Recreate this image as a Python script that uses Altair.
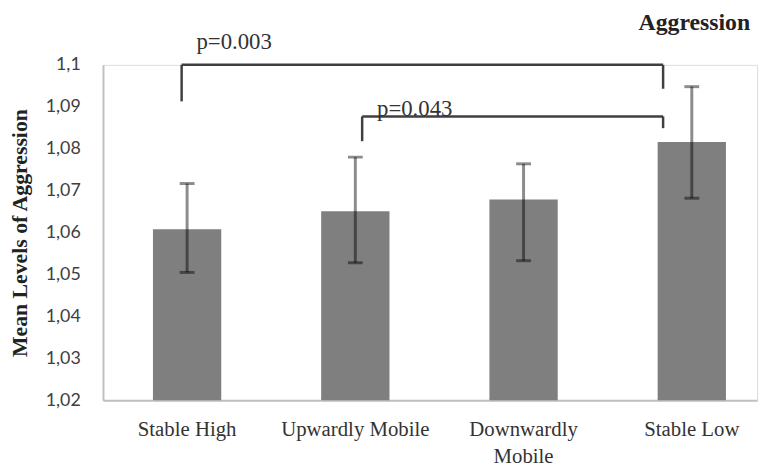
import altair as alt
import pandas as pd

categories = ["Stable High", "Upwardly Mobile", "Downwardly Mobile", "Stable Low"]
means = [1.0608, 1.0651, 1.0679, 1.0816]
lower = [1.0505, 1.0528, 1.0533, 1.0682]
upper = [1.0717, 1.0780, 1.0764, 1.0948]

# significance brackets: (from group, to group, level, left leg end, right leg end, label, label level)
brackets = [
    ("Stable High", "Stable Low", 1.1000, 1.0913, 1.0943, "p=0.003", 1.1038),
    ("Upwardly Mobile", "Stable Low", 1.0877, 1.0818, 1.0849, "p=0.043", 1.0877),
]

df = pd.DataFrame({"group": categories, "mean": means, "lower": lower, "upper": upper})

yscale = alt.Scale(domain=[1.02, 1.1], zero=False, nice=False)
xscale = alt.Scale(domain=categories, paddingInner=0.594, paddingOuter=0.241, align=0.616)

yaxis = alt.Axis(
    values=[1.02, 1.03, 1.04, 1.05, 1.06, 1.07, 1.08, 1.09, 1.1],
    labelExpr="replace(format(datum.value, '.2~f'), '.', ',')",
    grid=False, ticks=False, tickSize=0, labelPadding=23,
    labelFont="Lato", labelFontSize=18, labelColor="#404040",
    domainColor="#c0c0c0", domainWidth=2,
    title="Mean Levels of Aggression", titleFont="Liberation Serif",
    titleFontSize=22, titleFontWeight="bold", titleColor="#222222",
    titleX=-84, titleBaseline="middle",
)
xaxis = alt.Axis(
    title=None, ticks=False, tickSize=0, labelAngle=0, labelPadding=19,
    labelFont="Liberation Serif", labelFontSize=21, labelColor="#333333",
    labelBaseline="top", labelLineHeight=27,
    labelExpr="datum.label == 'Downwardly Mobile' ? ['Downwardly', 'Mobile'] : datum.label",
    domainColor="#c0c0c0", domainWidth=2,
)

x_main = alt.X("group:N", sort=categories, scale=xscale, axis=xaxis)

bars = alt.Chart(df).mark_bar(color="#7f7f7f").encode(
    x=x_main,
    y=alt.Y("mean:Q", scale=yscale, axis=yaxis),
    y2=alt.datum(1.02),
)

err = alt.Chart(df).mark_rule(color="black", opacity=0.45, strokeWidth=3).encode(
    x=alt.X("group:N", sort=categories),
    y=alt.Y("lower:Q"),
    y2="upper:Q",
)
cap_lo = alt.Chart(df).mark_tick(color="black", opacity=0.45, thickness=3, size=15).encode(
    x=alt.X("group:N", sort=categories),
    y=alt.Y("lower:Q"),
)
cap_hi = alt.Chart(df).mark_tick(color="black", opacity=0.45, thickness=3, size=15).encode(
    x=alt.X("group:N", sort=categories),
    y=alt.Y("upper:Q"),
)

band_pos = {"Stable High": 0.42, "Upwardly Mobile": 0.6, "Stable Low": 0.08}
line_color = "#3f3f3f"

layers = [bars, err, cap_lo, cap_hi]
for (g1, g2, level, leg1, leg2, label, label_y) in brackets:
    bdf = pd.DataFrame({"g1": [g1], "g2": [g2], "level": [level], "leg1": [leg1],
                        "leg2": [leg2], "label": [label], "label_y": [label_y]})
    bp1 = band_pos[g1]
    bp2 = band_pos[g2]
    horiz = alt.Chart(bdf).mark_rule(color=line_color, strokeWidth=2.5).encode(
        x=alt.X("g1:N", sort=categories, bandPosition=bp1),
        x2=alt.X2("g2:N", bandPosition=bp2),
        y=alt.Y("level:Q"),
    )
    left_leg = alt.Chart(bdf).mark_rule(color=line_color, strokeWidth=2.5).encode(
        x=alt.X("g1:N", sort=categories, bandPosition=bp1),
        y=alt.Y("level:Q"),
        y2="leg1:Q",
    )
    right_leg = alt.Chart(bdf).mark_rule(color=line_color, strokeWidth=2.5).encode(
        x=alt.X("g2:N", sort=categories, bandPosition=bp2),
        y=alt.Y("level:Q"),
        y2="leg2:Q",
    )
    txt = alt.Chart(bdf).mark_text(
        align="left", baseline="alphabetic", dx=15, font="Liberation Serif",
        fontSize=23, color="#333333",
    ).encode(
        x=alt.X("g1:N", sort=categories, bandPosition=bp1),
        y=alt.Y("label_y:Q"),
        text="label:N",
    )
    layers += [horiz, left_leg, right_leg, txt]

chart = alt.layer(*layers).properties(
    width=661,
    height=339,
    autosize=alt.AutoSizeParams(type="none"),
    padding={"left": 96, "top": 55, "right": 8, "bottom": 72},
    title=alt.TitleParams(
        "Aggression", anchor="end", font="Liberation Serif", fontSize=24,
        fontWeight="bold", color="#222222", offset=0, dx=-7, dy=23,
        baseline="alphabetic",
    ),
).configure_view(strokeWidth=0).configure(background="white")

chart.save("out.html", embed_options={"renderer": "svg", "actions": False})
